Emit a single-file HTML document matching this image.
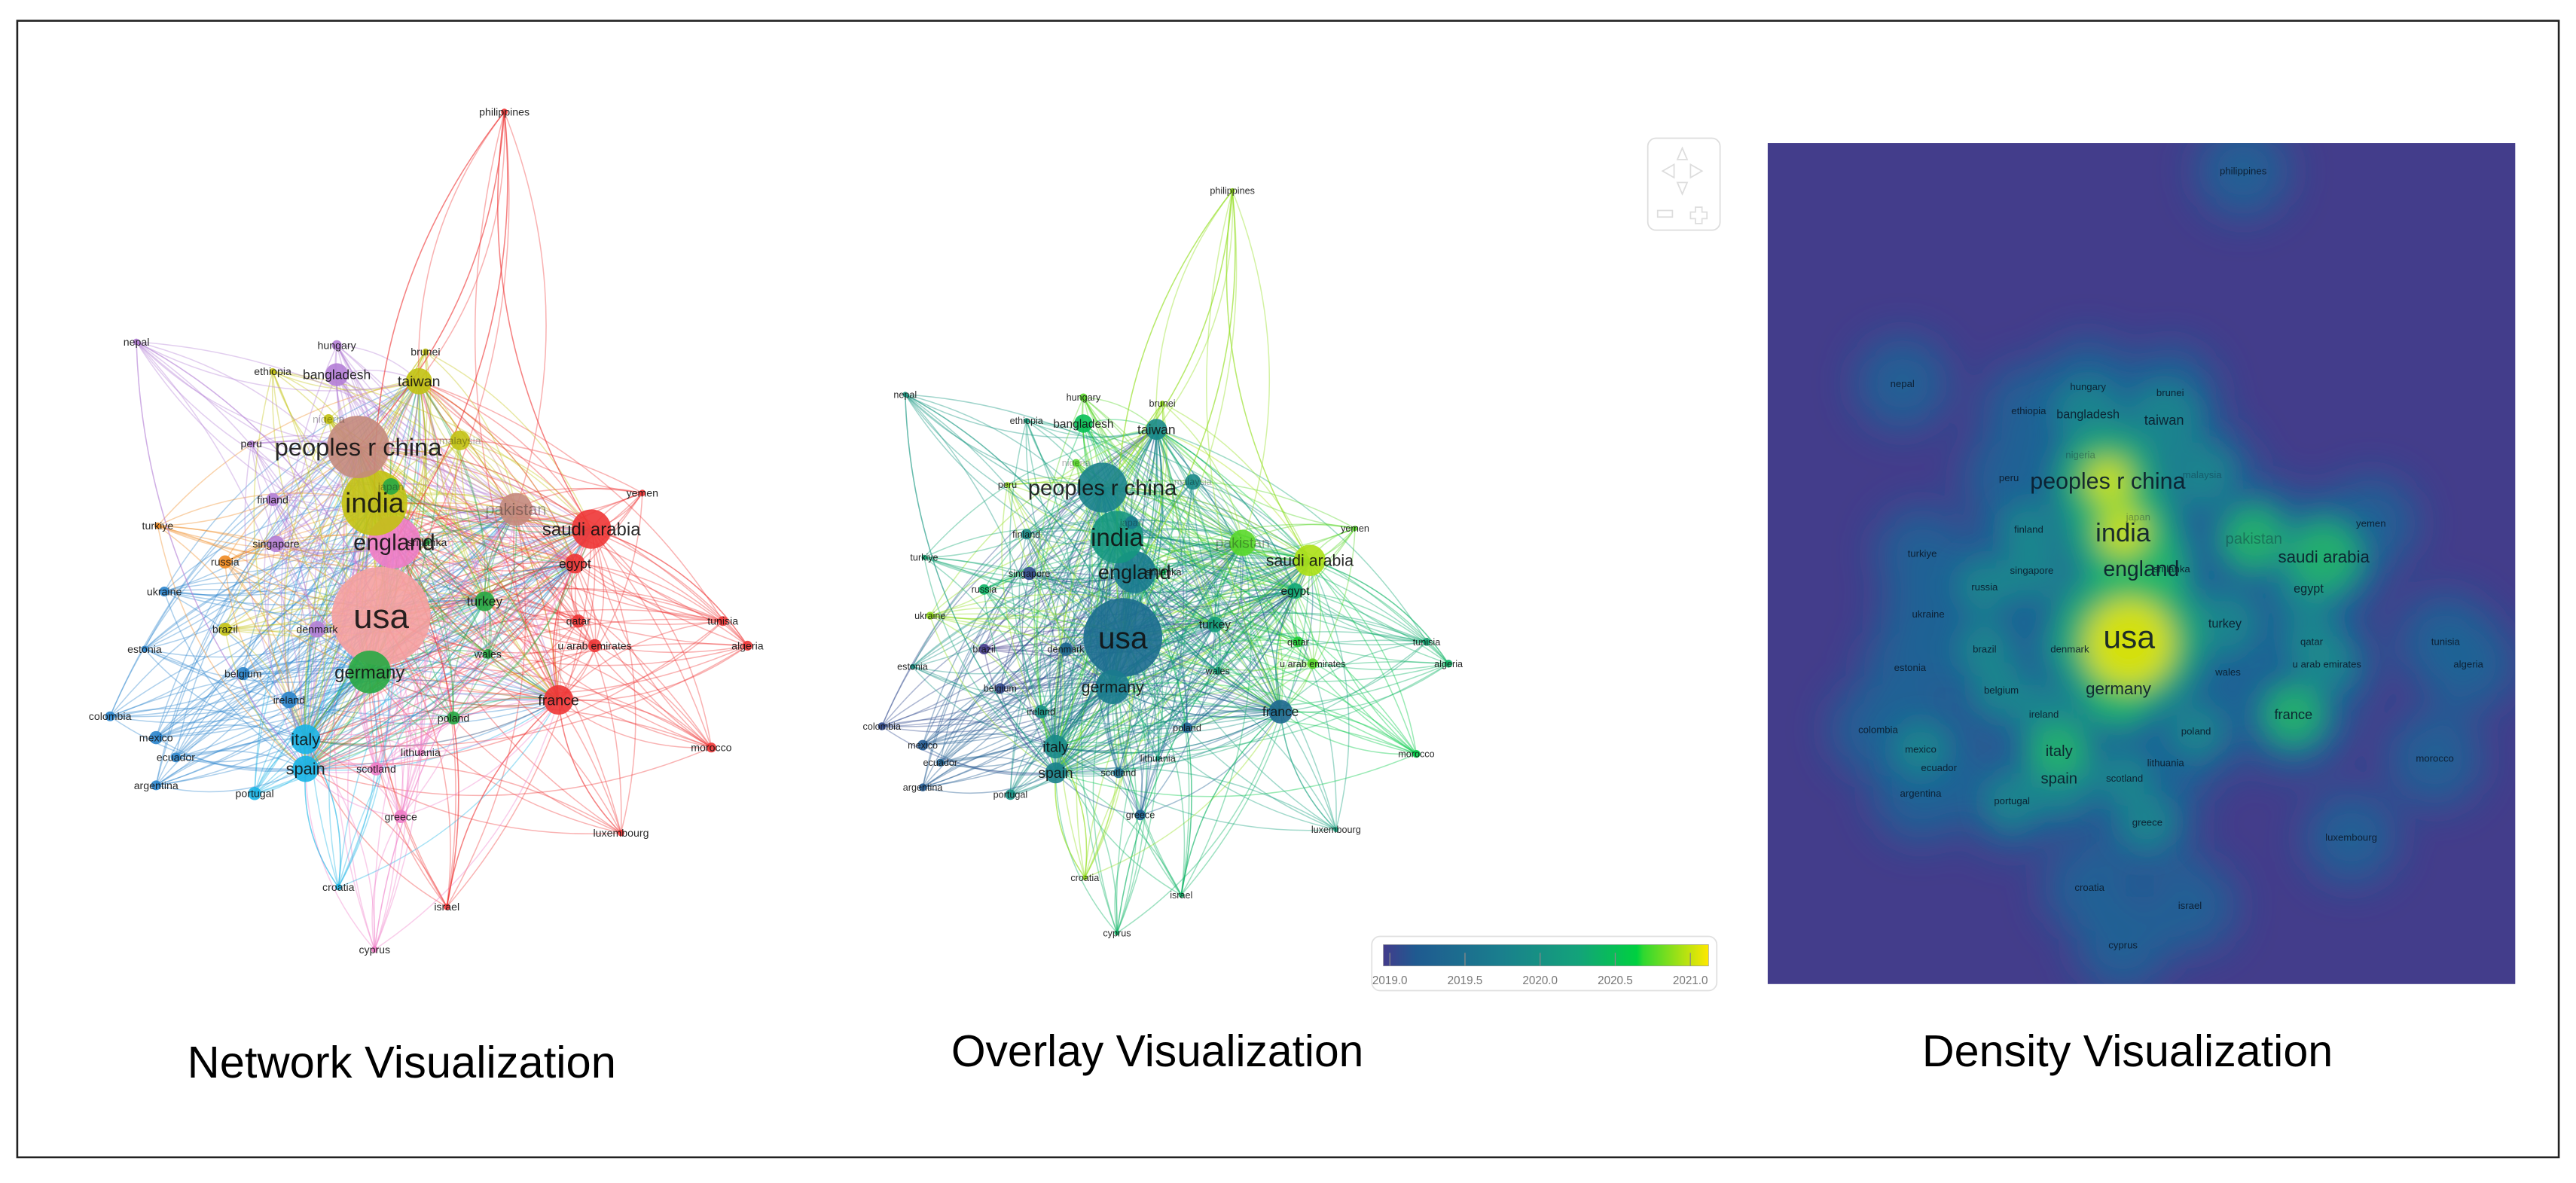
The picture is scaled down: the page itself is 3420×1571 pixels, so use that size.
<!DOCTYPE html>
<html><head><meta charset="utf-8"><style>
html,body{margin:0;padding:0;background:#fff;}
svg{display:block;font-family:"Liberation Sans",sans-serif;}
</style></head><body>
<svg id="fig" width="3420" height="1571" viewBox="0 0 1568 720" xmlns="http://www.w3.org/2000/svg">
<defs>
<filter id="blurBig" x="-50%" y="-50%" width="200%" height="200%"><feGaussianBlur stdDeviation="12"/></filter>
<filter id="blurMid" x="-50%" y="-50%" width="200%" height="200%"><feGaussianBlur stdDeviation="8"/></filter>
<clipPath id="densClip"><rect x="1076" y="87" width="455" height="512"/></clipPath>
<linearGradient id="viridis" x1="0" x2="1" y1="0" y2="0">
<stop offset="0" stop-color="#433b8c"/><stop offset="0.1" stop-color="#1f5a90"/><stop offset="0.35" stop-color="#1a7d8e"/><stop offset="0.6" stop-color="#13a37a"/><stop offset="0.78" stop-color="#00d040"/><stop offset="0.8" stop-color="#30d830"/><stop offset="1" stop-color="#ffe800"/>
</linearGradient>
</defs>
<rect x="10.5" y="12.5" width="1547" height="692" fill="#fff" stroke="#222" stroke-width="1.2"/>
<g id="net"></g>
<g id="ovl"></g>
<g id="dens">
<rect x="1076" y="87" width="455" height="512" fill="#433d8b"/>
</g>
<g fill="none" stroke="#ddd" stroke-width="0.8">
<rect x="1003" y="84" width="44" height="56" rx="5"/>
<path d="M1024 90 l3 7 h-6z M1012 104 l7 -4 v8z M1036 104 l-7 -4 v8z M1024 118 l3 -7 h-6z"/>
<rect x="1009" y="128" width="9" height="4"/><path d="M1032 126 h4 v3 h3 v4 h-3 v3 h-4 v-3 h-3 v-4 h3z"/>
</g>
<g>
<rect x="835" y="570" width="210" height="33" rx="5" fill="#fff" stroke="#e0e0e0" stroke-width="0.8"/>
<rect x="842" y="575" width="198" height="13" fill="url(#viridis)" stroke="#999" stroke-width="0.3"/>
<g id="cbTicks" font-size="7" fill="#777" text-anchor="middle"></g>
</g>
<text x="114" y="656" font-size="27" textLength="261" lengthAdjust="spacingAndGlyphs" fill="#000">Network Visualization</text>
<text x="579" y="649" font-size="27" textLength="251" lengthAdjust="spacingAndGlyphs" fill="#000">Overlay Visualization</text>
<text x="1170" y="649" font-size="27" textLength="250" lengthAdjust="spacingAndGlyphs" fill="#000">Density Visualization</text>
</svg>
<script>
const names=["usa","england","india","peoples r china","saudi arabia","pakistan","germany","france","italy","spain","taiwan","bangladesh","egypt","turkey","qatar","u arab emirates","tunisia","algeria","morocco","luxembourg","israel","cyprus","croatia","greece","portugal","argentina","ecuador","mexico","colombia","ireland","belgium","estonia","brazil","denmark","ukraine","russia","singapore","finland","turkiye","peru","nigeria","ethiopia","hungary","brunei","nepal","philippines","yemen","sri lanka","japan","wales","poland","lithuania","scotland","malaysia"];
const xs=[232,240,228,218,360,314,225,340,186,186,255,205,350,295,352,362,440,455,433,378,272,228,206,244,155,95,107,95,67,176,148,88,137,193,100,137,168,166,96,153,200,166,205,259,83,307,391,260,238,297,276,256,229,280];
const ys=[375,330,306,272,322,310,409,426,450,468,232,228,343,366,378,393,378,393,455,507,552,578,540,497,483,478,461,449,436,426,410,395,383,383,360,342,331,304,320,270,255,226,210,214,208,68,300,330,296,398,437,458,468,268];
const sizes=[30,16,20,19,12,10,13,9,9,8,8,7,6,6,4,4,3,3,3,2,2,2,2,4,4,3,3,4,3,5,4,2,4,5,3,4,5,4,2,2,3,2,3,2,2,2,2,2,5,3,4,2,4,6];
const clusters=[9,8,3,7,0,7,1,0,5,5,3,4,0,1,0,0,0,0,0,0,0,8,5,8,5,2,2,2,2,2,2,2,3,4,2,6,4,4,6,4,3,3,4,3,4,0,0,1,1,1,1,8,8,3];
const years=[2019.5,2019.7,2020.1,2019.8,2020.95,2020.8,2019.7,2019.4,2019.9,2019.8,2019.9,2020.5,2020.3,2020.2,2020.7,2020.8,2020.3,2020.4,2020.6,2020.2,2020.4,2020.4,2020.9,2019.3,2020.0,2019.2,2019.3,2019.2,2019.1,2020.0,2019.1,2020.0,2019.0,2019.4,2020.9,2020.4,2019.1,2019.9,2020.3,2020.9,2020.8,2020.2,2020.8,2020.9,2020.1,2020.9,2020.8,2020.5,2019.7,2020.2,2019.3,2020.2,2019.5,2019.9];
const hubs=["usa","england","india","peoples r china","germany","saudi arabia","italy","spain","france","pakistan","taiwan","egypt","turkey"];
const extraEdges=[["philippines","usa"],["philippines","saudi arabia"],["philippines","peoples r china"],["philippines","india"],["philippines","taiwan"],["philippines","france"],["philippines","england"],["nepal","india"],["nepal","usa"],["nepal","spain"],["cyprus","greece"],["cyprus","usa"],["cyprus","saudi arabia"],["israel","usa"],["israel","france"],["israel","england"],["morocco","france"],["morocco","saudi arabia"],["luxembourg","france"],["luxembourg","usa"],["yemen","saudi arabia"],["algeria","saudi arabia"],["tunisia","france"],["croatia","italy"],["croatia","spain"]];
const cbTicks=[2019.0,2019.5,2020.0,2020.5,2021.0];
const clusterColors=["#ee3535","#27a844","#2a84cc","#c2c212","#b47ed6","#18b4e6","#f08a20","#c48a7c","#f07cc8","#f5a0a0"];
const NS="http://www.w3.org/2000/svg";
const bigLabels={"usa":21,"india":17,"peoples r china":15,"england":14,"saudi arabia":11,"germany":11,"pakistan":10,"italy":10,"spain":10,"taiwan":9,"bangladesh":8,"france":9,"turkey":8,"egypt":8};
const fadedLabels={"pakistan":1,"nigeria":1,"japan":1,"malaysia":1};
function idx(n){return names.indexOf(n);}
function mk(tag,attrs,parent){const e=document.createElementNS(NS,tag);for(const k in attrs)e.setAttribute(k,attrs[k]);parent.appendChild(e);return e;}
const panels={
 net:{sx:x=>x,sy:y=>y,k:1,nk:1},
 ovl:{sx:x=>(x-83)*0.889+551,sy:y=>(y-68)*0.886+116,k:0.89,nk:0.8},
 dens:{sx:x=>(x-83)*0.926+1158,sy:y=>(y-68)*0.924+104,k:0.93,nk:0.93}
};
const yMin=2019.0,yMax=2021.1;
function viridis(t){
 const st=[[0,[67,59,140]],[0.1,[31,90,144]],[0.35,[26,125,142]],[0.6,[19,163,122]],[0.78,[0,208,64]],[1,[255,232,0]]];
 t=Math.max(0,Math.min(1,t));
 for(let i=1;i<st.length;i++){if(t<=st[i][0]){const a=st[i-1],b=st[i],f=(t-a[0])/(b[0]-a[0]);return "rgb("+a[1].map((v,j)=>Math.round(v+(b[1][j]-v)*f)).join(",")+")";}}
 return "rgb(255,232,0)";
}
function yearColor(y){return viridis((y-yMin)/(yMax-yMin));}
function edgeList(){
 const out=[];
 for(let i=0;i<names.length;i++){for(const h of hubs){const j=idx(h);if(j!==i&&sizes[i]+sizes[j]>8&&Math.hypot(xs[i]-xs[j],ys[i]-ys[j])<300)out.push([i,j]);}}
 for(const e of extraEdges)out.push([idx(e[0]),idx(e[1])]);
 return out;
}
const edges=edgeList();
function drawGraph(id,colorFn,opacity){
 const g=document.getElementById(id),P=panels[id];
 const eg=mk("g",{fill:"none"},g);
 
 
 edges.forEach(([i,j],n)=>{
  const x1=P.sx(xs[i]),y1=P.sy(ys[i]),x2=P.sx(xs[j]),y2=P.sy(ys[j]);
  const mx=(x1+x2)/2,my=(y1+y2)/2,dx=x2-x1,dy=y2-y1,b=(n%2?0.18:-0.18);
  const p=mk("path",{d:`M${x1} ${y1} Q${mx-dy*b} ${my+dx*b} ${x2} ${y2}`,stroke:colorFn(i),"stroke-width":0.7,"stroke-opacity":opacity},eg);
  
  
 });
 const ng=mk("g",{},g);
 names.forEach((nm,i)=>{
  const c=mk("circle",{cx:P.sx(xs[i]),cy:P.sy(ys[i]),r:sizes[i]*P.nk,fill:colorFn(i),"fill-opacity":0.9},ng);
  
  
 });
 drawLabels(g,P,"#111");
}
function drawLabels(g,P,fill){
 const lg=mk("g",{"text-anchor":"middle"},g);
 names.forEach((nm,i)=>{
  const fs=(bigLabels[nm]||6.5)*P.k;
  const t=mk("text",{x:P.sx(xs[i]),y:P.sy(ys[i])+fs*0.35,"font-size":fs,fill:fill,"fill-opacity":fadedLabels[nm]?0.35:0.9},lg);
  t.textContent=nm;
  
  
 });
}
drawGraph("net",i=>clusterColors[clusters[i]],0.38);
drawGraph("ovl",i=>yearColor(years[i]),0.4);
(function(){
 const g=document.getElementById("dens"),P=panels.dens;
 const cg=mk("g",{"clip-path":"url(#densClip)"},g);
 const l1=mk("g",{filter:"url(#blurBig)"},cg);
 
 
 names.forEach((nm,i)=>{mk("circle",{cx:P.sx(xs[i]),cy:P.sy(ys[i]),r:26+sizes[i]*1.0,fill:"#1e6496","fill-opacity":0.9},l1);});
 const l2=mk("g",{filter:"url(#blurMid)"},cg);
 
 
 names.forEach((nm,i)=>{if(sizes[i]>=4)mk("circle",{cx:P.sx(xs[i]),cy:P.sy(ys[i]),r:12+sizes[i]*1.3,fill:"#1b8d8c","fill-opacity":0.75},l2);});
 names.forEach((nm,i)=>{if(sizes[i]>=9)mk("circle",{cx:P.sx(xs[i]),cy:P.sy(ys[i]),r:6+sizes[i]*1.2,fill:"#22b868","fill-opacity":0.8},l2);});
 names.forEach((nm,i)=>{if(sizes[i]>=19)mk("circle",{cx:P.sx(xs[i]),cy:P.sy(ys[i])+(nm=="usa"?4:0),r:sizes[i]*(nm=="usa"?0.9:0.7),fill:"#e8e600","fill-opacity":0.9},l2);});
 const ci=idx("peoples r china"),ii=idx("india");
 mk("line",{x1:P.sx(xs[ci]),y1:P.sy(ys[ci]),x2:P.sx(xs[ii]),y2:P.sy(ys[ii]),stroke:"#b8e020","stroke-width":16,"stroke-linecap":"round","stroke-opacity":0.8},l2);
 drawLabels(g,P,"#0a1a2a");
})();
(function(){
 const g=document.getElementById("cbTicks");
 cbTicks.forEach(v=>{
  const x=842+(v-yMin)/(yMax-yMin)*198*0.97+4;
  const l=mk("line",{x1:x,x2:x,y1:580,y2:588,stroke:"#888","stroke-width":0.6},g);
  
  
  const t=mk("text",{x:x,y:599},g);t.textContent=v.toFixed(1);
  
  
 });
})();
</script>
</body></html>
